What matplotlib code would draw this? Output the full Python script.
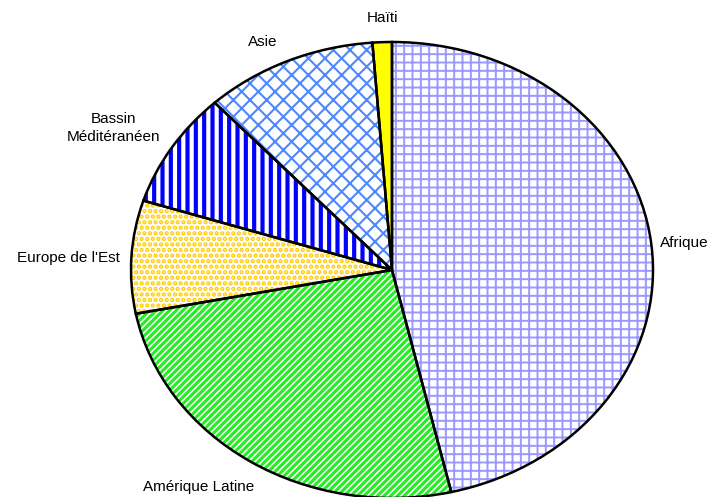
import matplotlib.pyplot as plt

regions = ['Afrique', 'Amérique Latine', "Europe de l'Est", 'Bassin\nMéditéranéen', 'Asie', 'Haïti']
shares = [46.4, 25.6, 8.0, 8.2, 10.7, 1.2]

hatch_colors = ['#9999ff', '#22ee22', '#ffcc00', '#0000ff', '#4d88ff', '#ffff00']
hatches = ['++', '/////', '...', '||', 'xx', None]
hatch_lw = [1.4, 2.2, 2.2, 3.0, 1.5, 1.0]
faces = ['white', 'white', 'white', 'white', 'white', '#ffff00']

plt.rcParams['font.family'] = ['Liberation Sans', 'DejaVu Sans']
plt.rcParams['hatch.linewidth'] = 2.0

fig = plt.figure(figsize=(7.18, 4.97), dpi=100)
# ellipse-shaped pie: center (392,270) px, radii 261 x 228 px
ax = fig.add_axes([(392 - 261) / 718, (497 - 270 - 228) / 497, 522 / 718, 456 / 497])

wedges, _ = ax.pie(shares, startangle=90, counterclock=False, radius=1,
                   colors=faces, wedgeprops=dict(linewidth=0))
for w, hc, h, lw in zip(wedges, hatch_colors, hatches, hatch_lw):
    w.set_edgecolor(hc)
    if h:
        w.set_hatch(h)
        if hasattr(w, 'set_hatch_linewidth'):
            w.set_hatch_linewidth(lw)
        else:
            w._hatch_linewidth = lw

# black outlines on top
ax.pie(shares, startangle=90, counterclock=False, radius=1,
       colors=['none'] * len(shares),
       wedgeprops=dict(linewidth=1.8, edgecolor='black', fill=False))

ax.set_aspect('auto')
ax.set_xlim(-1, 1)
ax.set_ylim(-1, 1)
ax.axis('off')

W, H = 718, 497
label_pos = [(660, 243, 'left'), (199, 487, 'center'), (120, 258, 'right'),
             (113, 128, 'center'), (263, 42, 'center'), (382, 18, 'center')]
for name, (px, py, ha) in zip(regions, label_pos):
    fig.text(px / W, 1 - py / H, name, ha=ha, va='center', fontsize=11,
             linespacing=1.4)

plt.savefig('out.png', dpi=100)
